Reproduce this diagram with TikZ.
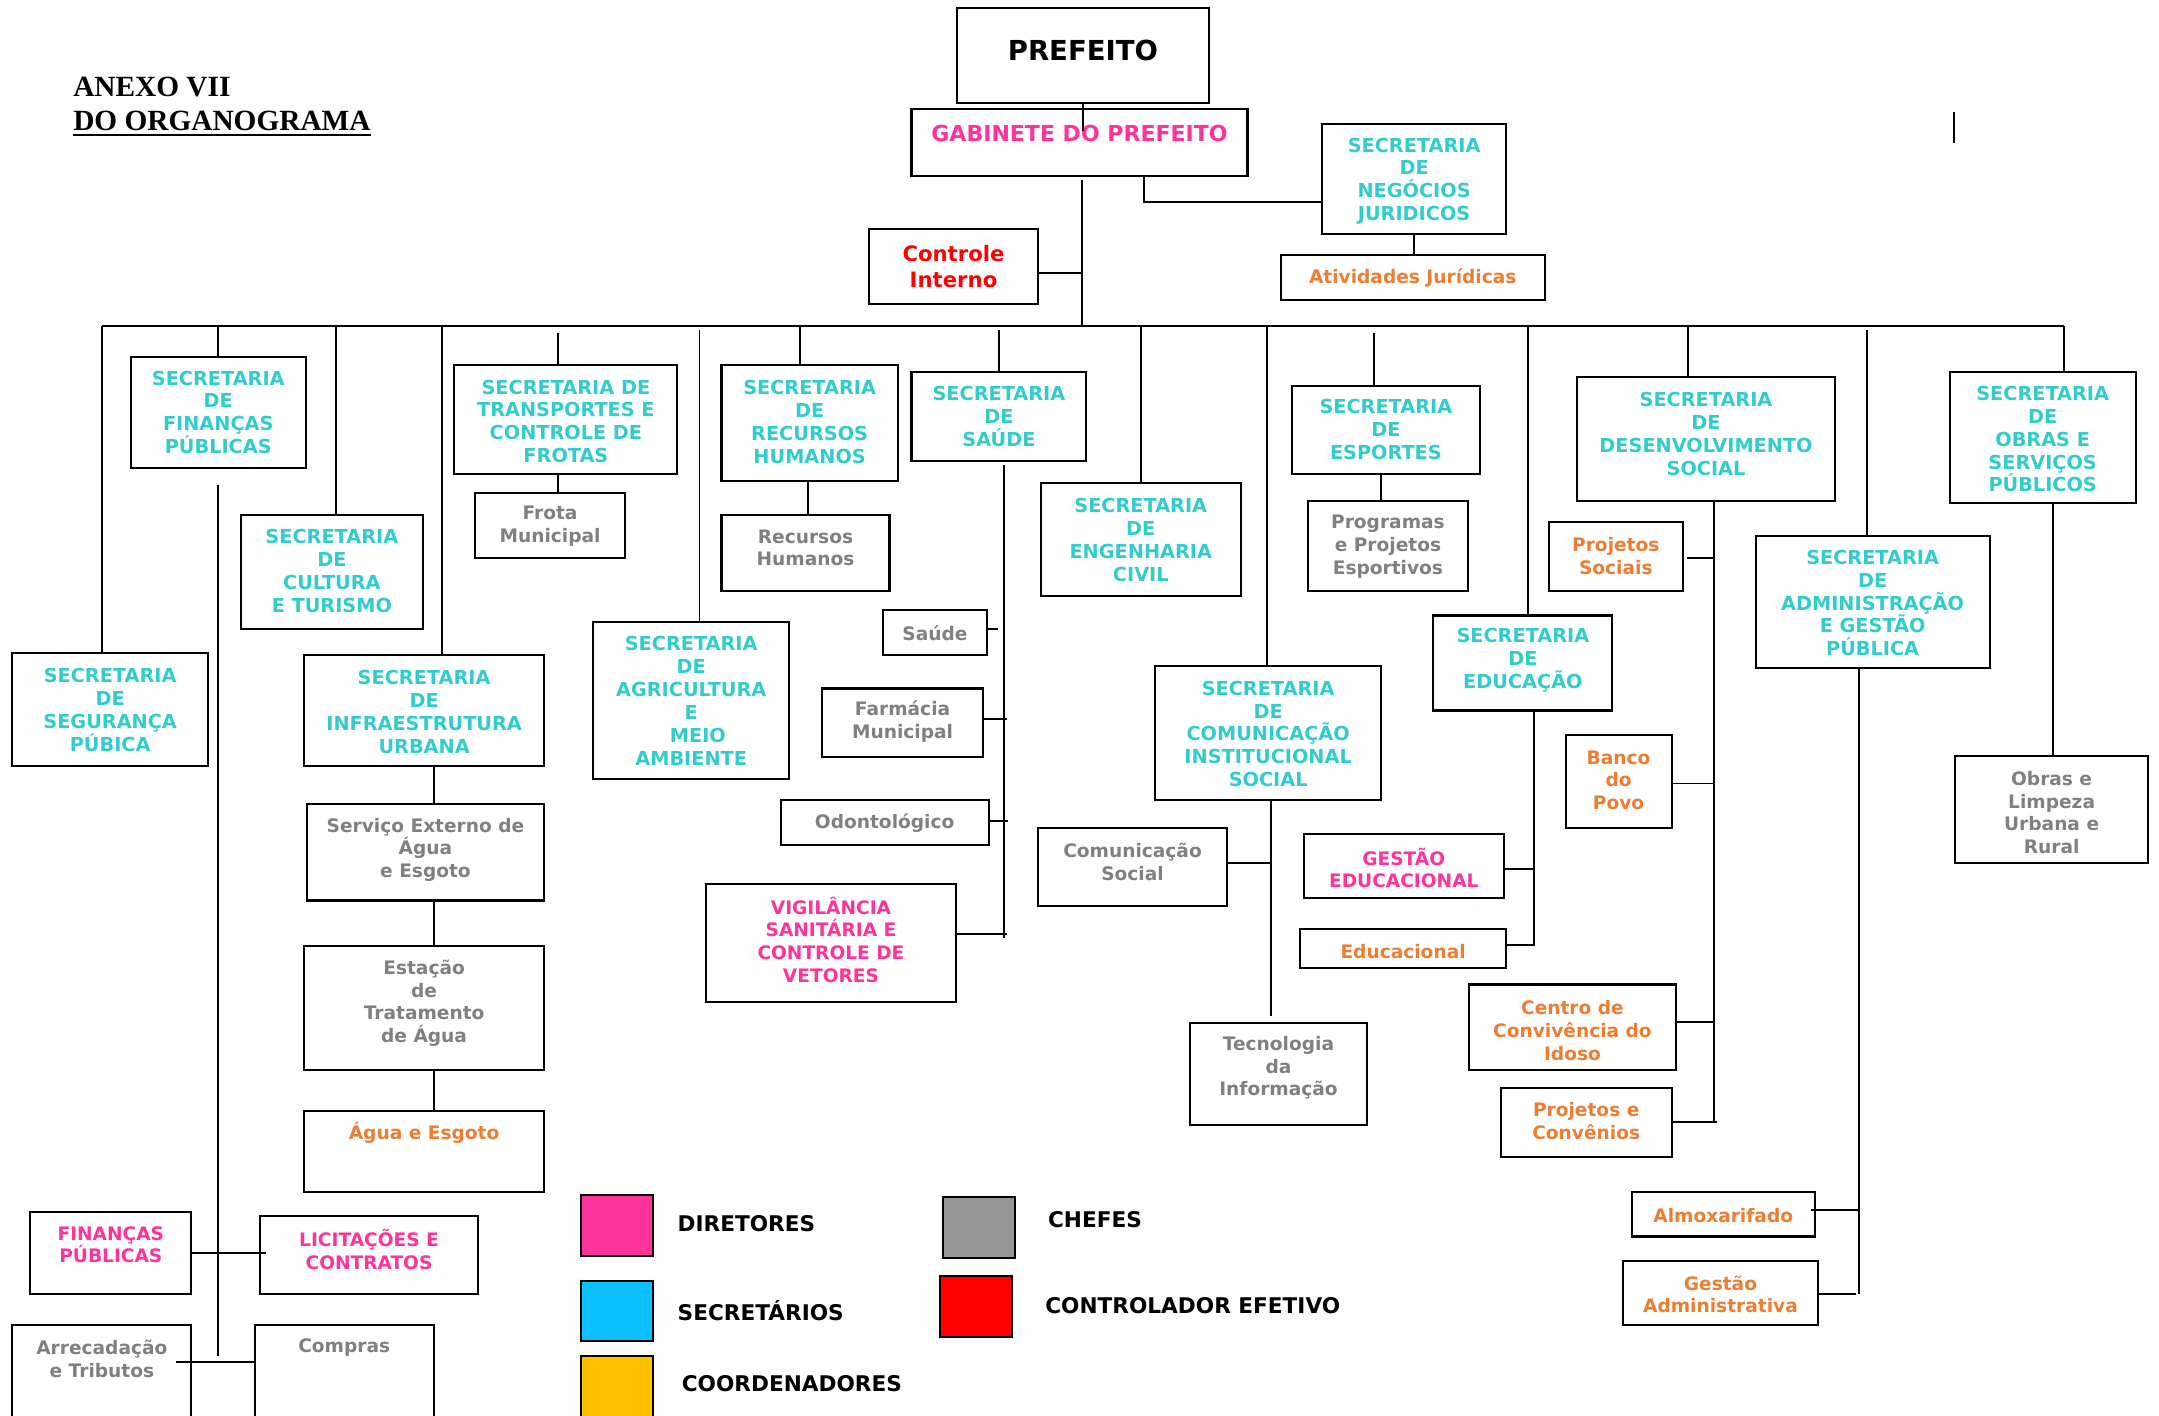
\documentclass[tikz,border=0pt]{standalone}
\usepackage{fontspec}
\setmainfont{DejaVu Sans}
\newfontfamily\titlefont{Liberation Serif}
\definecolor{secC}{RGB}{51,204,204}
\definecolor{dirC}{RGB}{255,51,153}
\definecolor{crdC}{RGB}{237,125,49}
\definecolor{chfC}{RGB}{128,128,128}
\definecolor{ctlC}{RGB}{255,0,0}
\definecolor{lgBlue}{RGB}{12,192,255}
\definecolor{lgYel}{RGB}{255,192,0}
\definecolor{lgGray}{RGB}{150,150,150}
\definecolor{lgPink}{RGB}{255,51,153}
\tikzset{
  box/.style={draw=black, line width=1.5pt, inner sep=0pt, outer sep=0pt, rectangle},
  ln/.style={line width=1.4pt},
  sec/.style={text=secC, font=\bfseries\fontsize{14}{16.6}\selectfont, align=center, inner sep=0pt},
  chf/.style={text=chfC, font=\bfseries\fontsize{13.5}{16.4}\selectfont, align=center, inner sep=0pt},
  dir/.style={text=dirC, font=\bfseries\fontsize{13.5}{16.4}\selectfont, align=center, inner sep=0pt},
  crd/.style={text=crdC, font=\bfseries\fontsize{13.5}{16.4}\selectfont, align=center, inner sep=0pt},
  ctl/.style={text=ctlC, font=\bfseries\fontsize{15.4}{19}\selectfont, align=center, inner sep=0pt},
  gabst/.style={text=dirC, font=\bfseries\fontsize{16}{19}\selectfont, align=center, inner sep=0pt},
  prefst/.style={text=black, font=\bfseries\fontsize{20}{24}\selectfont, align=center, inner sep=0pt},
  leg/.style={draw=black, line width=1.5pt, minimum width=52pt, minimum height=44pt, inner sep=0pt},
  legt/.style={font=\bfseries\fontsize{15.7}{18}\selectfont, anchor=west, inner sep=0pt},
  titlest/.style={font=\titlefont\bfseries\fontsize{21.3}{24}\selectfont, inner sep=0pt, anchor=base west},
}
% name, x1, y1, x2, y2, text style, text y offset (down), text
\newcommand\obox[8]{%
  \node[box, minimum width={(#4-#2)*1pt}, minimum height={(#5-#3)*1pt}] (#1) at ({(#2+#4)/2},{(#3+#5)/2}) {};
  \node[#6, yshift={-(#7)*1pt}] (#1t) at (#1.center) {#8};}
\newcommand\drop[3]{%
  \draw[ln] ([xshift=#2pt]#1.north) -- ([xshift=#2pt,yshift=-#3pt]#1.north |- busL);}
\begin{document}
\begin{tikzpicture}[x=1pt,y=-1pt]
\useasboundingbox (0,0) rectangle (1568,1028);
\clip (0,0) rectangle (1568,1028);
\fill[white] (0,0) rectangle (1568,1028);

% title
\node[titlest] (t1) at (53,70) {ANEXO VII};
\node[titlest] (t2) at (53,95) {DO ORGANOGRAMA};
\draw[line width=1.6pt] ([yshift=-3.2pt]t2.base west) -- ([yshift=-3.2pt]t2.base east);

% top
\obox{pref}{695}{6}{878}{75}{prefst}{-3.5}{PREFEITO}
\obox{gab}{662}{79}{906}{128}{gabst}{-6.5}{GABINETE DO PREFEITO}
\obox{ctrl}{631}{166}{754}{221}{ctl}{0}{Controle\\Interno}
\obox{neg}{960}{90}{1094}{170}{sec}{1.5}{SECRETARIA\\DE\\NEGÓCIOS\\JURIDICOS}
\obox{ativ}{930}{185}{1122}{218}{crd}{0.5}{Atividades Jurídicas}

% secretarias
\obox{seg}{9}{474}{151}{556}{sec}{0.5}{SECRETARIA\\DE\\SEGURANÇA\\PÚBICA}
\obox{fin}{95}{259}{222}{340}{sec}{0}{SECRETARIA\\DE\\FINANÇAS\\PÚBLICAS}
\obox{cul}{175}{374}{307}{457}{sec}{-1}{SECRETARIA\\DE\\CULTURA\\E TURISMO}
\obox{inf}{221}{476}{395}{556}{sec}{1}{SECRETARIA\\DE\\INFRAESTRUTURA\\URBANA}
\obox{tra}{330}{265}{492}{344}{sec}{1.5}{SECRETARIA DE\\TRANSPORTES E\\CONTROLE DE\\FROTAS}
\obox{agr}{431}{452}{573}{566}{sec}{0}{SECRETARIA\\DE\\AGRICULTURA\\E\\\ \ MEIO\\AMBIENTE}
\obox{rh}{524}{265}{652}{349}{sec}{-0.5}{SECRETARIA\\DE\\RECURSOS\\HUMANOS}
\obox{sau}{662}{270}{789}{335}{sec}{0}{SECRETARIA\\DE\\SAÚDE}
\obox{eng}{756}{351}{901}{433}{sec}{0}{SECRETARIA\\DE\\ENGENHARIA\\CIVIL}
\obox{com}{839}{484}{1003}{581}{sec}{0.5}{SECRETARIA\\DE\\COMUNICAÇÃO\\INSTITUCIONAL\\SOCIAL}
\obox{esp}{938}{280}{1075}{344}{sec}{0}{SECRETARIA\\DE\\ESPORTES}
\obox{edu}{1041}{447}{1171}{516}{sec}{-2}{SECRETARIA\\DE\\EDUCAÇÃO}
\obox{des}{1145}{274}{1333}{364}{sec}{-4}{SECRETARIA\\DE\\DESENVOLVIMENTO\\SOCIAL}
\obox{adm}{1275}{389}{1445}{485}{sec}{1}{SECRETARIA\\DE\\ADMINISTRAÇÃO\\E GESTÃO\\PÚBLICA}
\obox{obr}{1416}{270}{1551}{365}{sec}{1.5}{SECRETARIA\\DE\\OBRAS E\\SERVIÇOS\\PÚBLICOS}

% sub units
\obox{fro}{345}{358}{454}{405}{chf}{0.5}{Frota\\Municipal}
\obox{rhs}{524}{374}{646}{429}{chf}{-3.5}{Recursos\\Humanos}
\obox{prg}{950}{364}{1066}{429}{chf}{0.5}{Programas\\e Projetos\\Esportivos}
\obox{srv}{223}{584}{395}{654}{chf}{-2}{Serviço Externo de\\Água\\e Esgoto}
\obox{est}{221}{687}{395}{777}{chf}{-3.5}{Estação\\de\\Tratamento\\de Água}
\obox{agu}{221}{807}{395}{866}{crd}{-13.5}{Água e Esgoto}
\obox{ssa}{641}{443}{717}{476}{chf}{0.5}{Saúde}
\obox{far}{597}{500}{714}{550}{chf}{-1}{Farmácia\\Municipal}
\obox{odo}{567}{581}{718}{614}{chf}{0.5}{Odontológico}
\obox{vig}{513}{642}{694}{728}{dir}{-2.5}{VIGILÂNCIA\\SANITÁRIA E\\CONTROLE DE\\VETORES}
\obox{csc}{754}{601}{891}{658}{chf}{-3.5}{Comunicação\\Social}
\obox{tec}{864}{743}{993}{817}{chf}{-4.5}{Tecnologia\\da\\Informação}
\obox{gse}{947}{606}{1092}{652}{dir}{1.5}{GESTÃO\\EDUCACIONAL}
\obox{edc}{944}{675}{1094}{703}{crd}{2}{Educacional}
\obox{pso}{1125}{379}{1222}{429}{crd}{0}{Projetos\\Sociais}
\obox{bpv}{1137}{534}{1214}{601}{crd}{-1}{Banco\\do\\Povo}
\obox{cci}{1067}{715}{1217}{777}{crd}{2.5}{Centro de\\Convivência do\\Idoso}
\obox{pcv}{1090}{790}{1214}{840}{crd}{-1}{Projetos e\\Convênios}
\obox{alm}{1185}{866}{1318}{898}{crd}{1}{Almoxarifado}
\obox{gad}{1179}{916}{1320}{962}{crd}{1}{Gestão\\Administrativa}
\obox{obl}{1420}{549}{1560}{627}{chf}{2}{Obras e\\Limpeza\\Urbana e\\Rural}
\obox{fpu}{22}{880}{139}{940}{dir}{-6}{FINANÇAS\\PÚBLICAS}
\obox{lic}{189}{883}{347}{940}{dir}{-4}{LICITAÇÕES E\\CONTRATOS}
\obox{arr}{9}{962}{139}{1080}{chf}{-34}{Arrecadação\\e Tributos}
\obox{cmp}{185}{962}{315}{1080}{chf}{-42}{Compras}

% legend
\node[leg, fill=lgPink] (lp) at (448,890) {};
\node[leg, fill=lgBlue] (lb) at (448,952) {};
\node[leg, fill=lgYel] (ly) at (448,1007) {};
\node[leg, fill=lgGray] (lg) at (711,891.5) {};
\node[leg, fill=ctlC] (lr) at (709,949) {};
\node[legt] (lpt) at (492,889) {DIRETORES};
\node[legt] (lbt) at (492,952) {SECRETÁRIOS};
\node[legt] (lyt) at (495,1005) {COORDENADORES};
\node[legt] (lgt) at (761,886) {CHEFES};
\node[legt] (lrt) at (759,948) {CONTROLADOR EFETIVO};

% coordinates
\coordinate (busL) at (74,237);
\coordinate (busR) at (1499,237);
\coordinate (mv) at (786,237);
\coordinate (s1) at (1419,81);
\coordinate (s2) at (1419,104);
\coordinate (finE) at (158.5,985);
\coordinate (arrC) at (128,989);
\coordinate (sauE) at (729,681);
\coordinate (comE) at (923,738);
\coordinate (eduE) at (1114,687);
\coordinate (desE) at (1245,815);
\coordinate (admE) at (1350,940);

% connectors top
\draw[ln] (s1) -- (s2);
\draw[ln] (busL) -- (busR);
\draw[ln] (pref.south) -- ++(0,20);
\draw[ln] ([xshift=2pt,yshift=-3pt]gab.south) -- ([xshift=2pt]gab.south |- busL);
\draw[ln] ([yshift=-4.5pt]ctrl.east) -- ([yshift=-4.5pt]ctrl.east -| mv);
\draw[ln] ([xshift=47pt]gab.south) |- ([yshift=-17pt]neg.west);
\draw[ln] (neg.south) -- (neg.south |- ativ.north);

% drops from bus
\drop{seg}{-6}{0}
\drop{fin}{0}{0}
\drop{cul}{3}{0}
\drop{inf}{13}{0}
\drop{tra}{-6}{5}
\drop{agr}{6}{3}
\drop{rh}{-7}{0}
\drop{sau}{0}{3}
\drop{eng}{0}{0}
\drop{com}{-1}{0}
\drop{esp}{-8.5}{5}
\drop{edu}{4}{0}
\drop{des}{-13}{0}
\drop{adm}{-4}{3}
\drop{obr}{15.5}{0}

% finanças
\draw[ln] ([yshift=-12pt]fin.south) -- (finE);
\draw[ln] (fpu.east) -- ([xshift=4pt]fpu.east -| lic.west);
\draw[ln] (arrC) -- (arrC -| cmp.west);

% transportes, RH
\draw[ln] ([xshift=-6pt]tra.south) -- ([xshift=-6pt]tra.south |- fro.north);
\draw[ln] ([xshift=-1pt]rh.south) -- ([xshift=-1pt]rh.south |- rhs.north);

% saúde
\draw[ln] ([xshift=3.5pt,yshift=-3pt]sau.south) -- (sauE);
\draw[ln] ([yshift=2.5pt]ssa.east) -- ++(8,0);
\draw[ln] ([yshift=3pt]far.east) -- ([yshift=3pt,xshift=2pt]far.east -| sauE);
\draw[ln] ([yshift=1.5pt]odo.east) -- ([yshift=1.5pt,xshift=3pt]odo.east -| sauE);
\draw[ln] ([yshift=7pt]vig.east) -- ([yshift=7pt,xshift=2pt]vig.east -| sauE);

% infraestrutura
\draw[ln] ([xshift=7pt]inf.south) -- ([xshift=7pt]inf.south |- srv.north);
\draw[ln] ([xshift=6pt]srv.south) -- ([xshift=6pt]srv.south |- est.north);
\draw[ln] ([xshift=7pt]est.south) -- ([xshift=7pt]est.south |- agu.north);

% esportes
\draw[ln] ([xshift=-3.5pt]esp.south) -- ([xshift=-3.5pt]esp.south |- prg.north);

% comunicação
\draw[ln] ([xshift=2pt]com.south) -- (comE);
\draw[ln] ([yshift=2.5pt]csc.east) -- ([yshift=2.5pt]csc.east -| comE);

% educação
\draw[ln] ([xshift=8pt]edu.south) -- (eduE);
\draw[ln] ([yshift=-2pt]gse.east) -- ([yshift=-2pt]gse.east -| eduE);
\draw[ln] ([yshift=3pt]edc.east) -- ([yshift=3pt]edc.east -| eduE);

% desenvolvimento social
\draw[ln] ([xshift=6pt]des.south) -- (desE);
\draw[ln] ([yshift=-1pt,xshift=3pt]pso.east) -- ([yshift=-1pt]pso.east -| desE);
\draw[ln] ([yshift=-1.5pt]bpv.east) -- ([yshift=-1.5pt]bpv.east -| desE);
\draw[ln] ([yshift=4pt]cci.east) -- ([yshift=4pt]cci.east -| desE);
\draw[ln] (pcv.east) -- ([xshift=2pt]pcv.east -| desE);

% administração
\draw[ln] ([xshift=-10pt]adm.south) -- (admE);
\draw[ln] ([yshift=3pt,xshift=-3pt]alm.east) -- ([yshift=3pt]alm.east -| admE);
\draw[ln] ([yshift=-1pt]gad.east) -- ([yshift=-1pt,xshift=-2pt]gad.east -| admE);

% obras
\draw[ln] ([xshift=7.5pt]obr.south) -- ([xshift=7.5pt]obr.south |- obl.north);
\end{tikzpicture}
\end{document}
